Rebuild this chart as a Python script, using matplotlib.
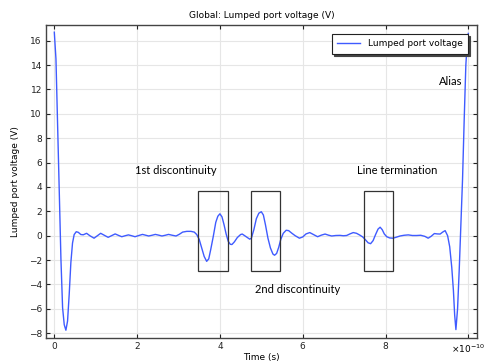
import numpy as np
import matplotlib.pyplot as plt
from matplotlib.patches import Rectangle

# time in units of 1e-10 s, voltage in V
time_e10 = [0.00, 0.04, 0.08, 0.12, 0.16, 0.20, 0.24, 0.28, 0.32, 0.36,
            0.40, 0.44, 0.48, 0.53, 0.58, 0.64, 0.70, 0.78, 0.86, 0.96,
            1.03, 1.12, 1.20, 1.30, 1.38, 1.47, 1.55, 1.63, 1.71, 1.79,
            1.87, 1.95, 2.04, 2.13, 2.20, 2.28, 2.36, 2.44, 2.52, 2.60,
            2.68, 2.76, 2.85, 2.94, 3.02, 3.10, 3.20, 3.30, 3.38, 3.44,
            3.50, 3.56, 3.62, 3.68, 3.73, 3.78, 3.84, 3.90, 3.95, 4.00,
            4.05, 4.10, 4.15, 4.20, 4.25, 4.29, 4.35, 4.42, 4.50, 4.54,
            4.60, 4.66, 4.72, 4.76, 4.82, 4.88, 4.94, 5.00, 5.05, 5.10,
            5.16, 5.22, 5.28, 5.32, 5.37, 5.42, 5.47, 5.53, 5.60, 5.66,
            5.74, 5.82, 5.92, 6.00, 6.08, 6.17, 6.26, 6.36, 6.45, 6.54,
            6.62, 6.70, 6.80, 6.90, 6.98, 7.06, 7.14, 7.22, 7.30, 7.38,
            7.45, 7.52, 7.58, 7.64, 7.70, 7.76, 7.82, 7.87, 7.92, 7.97,
            8.03, 8.10, 8.18, 8.26, 8.35, 8.45, 8.55, 8.65, 8.75, 8.85,
            8.95, 9.03, 9.10, 9.18, 9.25, 9.32, 9.38, 9.44, 9.50, 9.55,
            9.60, 9.64, 9.67, 9.70, 9.74, 9.78, 9.82, 9.86, 9.90, 9.94,
            9.98, 10.00]
voltage = [16.7, 14.5, 9.2, 3.6, -1.9, -5.9, -7.3, -7.75, -7.0, -4.8,
           -2.2, -0.6, 0.1, 0.33, 0.28, 0.1, 0.08, 0.2, 0.0, -0.2,
           -0.02, 0.2, 0.05, -0.13, 0.0, 0.15, 0.03, -0.08, 0.0, 0.07,
           0.0, -0.08, 0.02, 0.11, 0.05, -0.02, 0.04, 0.11, 0.05, -0.02,
           0.04, 0.11, 0.04, -0.02, 0.12, 0.30, 0.36, 0.36, 0.30, 0.10,
           -0.3, -1.0, -1.7, -2.1, -1.9, -1.1, -0.05, 1.1, 1.6, 1.8,
           1.55, 0.9, 0.15, -0.45, -0.7, -0.72, -0.5, -0.15, 0.1, 0.14,
           0.0, -0.15, -0.28, -0.2, 0.5, 1.4, 1.85, 1.97, 1.7, 0.9,
           -0.2, -1.0, -1.5, -1.6, -1.45, -0.95, -0.3, 0.2, 0.45, 0.42,
           0.2, 0.0, -0.2, -0.1, 0.15, 0.26, 0.1, -0.08, 0.05, 0.14,
           0.05, -0.02, 0.02, 0.03, 0.0, 0.02, 0.15, 0.26, 0.2, 0.05,
           -0.1, -0.35, -0.58, -0.65, -0.4, 0.1, 0.55, 0.7, 0.5, 0.15,
           -0.08, -0.18, -0.2, -0.12, -0.02, 0.04, 0.07, 0.02, 0.02, 0.04,
           -0.05, -0.2, -0.05, 0.18, 0.15, 0.14, 0.3, 0.42, 0.0, -0.9,
           -2.6, -4.5, -6.5, -7.7, -6.0, -2.8, 0.9, 4.6, 9.5, 14.0,
           16.2, 16.6]

# annotation boxes: (t_start, t_end, v_low, v_high)
boxes = [(3.48, 4.20, -2.9, 3.7),
         (4.74, 5.46, -2.9, 3.7),
         (7.47, 8.19, -2.9, 3.7)]
labels = ["1st discontinuity", "2nd discontinuity", "Line termination", "Alias"]
label_pos = [(2.93, 5.39), (5.88, -4.4), (8.28, 5.39), (9.58, 12.69)]

plt.rcParams['font.family'] = ['DejaVu Sans']

fig = plt.figure(figsize=(4.97, 3.61), dpi=100)
ax = fig.add_axes([0.0926, 0.0637, 0.8672, 0.867])

ax.plot(time_e10, voltage, color='#3f5bff', lw=1.0, label='Lumped port voltage')

for t0, t1, v0, v1 in boxes:
    ax.add_patch(Rectangle((t0, v0), t1 - t0, v1 - v0, fill=False,
                           edgecolor='#333333', lw=0.9, zorder=3))

for (tx, ty), lab in zip(label_pos, labels):
    ax.text(tx, ty, lab, ha='center', va='center', fontsize=8.0, family='Lato')

ax.set_xlim(-0.2, 10.21)
ax.set_ylim(-8.39, 17.29)
ax.set_xticks([0, 2, 4, 6, 8, 10])
ax.set_xticklabels(['0', '2', '4', '6', '8', ''])
ax.set_yticks(np.arange(-8, 17, 2))
ax.grid(True, color='#e6e6e6', lw=0.8)
ax.set_axisbelow(True)
ax.tick_params(direction='in', top=True, right=True, labelsize=6.5, length=3,
               width=0.8, colors='#222222', pad=3)
for s in ax.spines.values():
    s.set_color('#444444')
    s.set_linewidth(1.0)

ax.text(10.0, -9.3, r'$\times10^{-10}$', ha='center', va='center', fontsize=6.5)
ax.set_title('Global: Lumped port voltage (V)', fontsize=6.5, pad=5)
ax.set_xlabel('Time (s)', fontsize=6.5, labelpad=1)
ax.set_ylabel('Lumped port voltage (V)', fontsize=6.5, labelpad=6)

leg = ax.legend(loc='upper right', fontsize=6.5, frameon=True, fancybox=False,
                shadow={'color': '#444444', 'alpha': 1.0, 'ox': 1.5, 'oy': -1.5},
                borderaxespad=1.0, handlelength=2.6, borderpad=0.6)
leg.get_frame().set_edgecolor('#222222')
leg.get_frame().set_linewidth(0.8)

fig.savefig('out.png', dpi=100)
